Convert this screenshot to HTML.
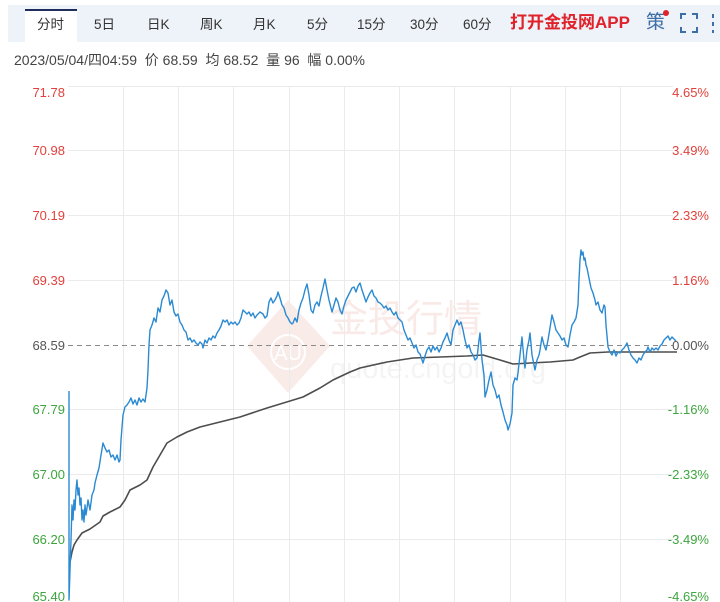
<!DOCTYPE html>
<html>
<head>
<meta charset="utf-8">
<style>
  html,body{margin:0;padding:0;background:#fff;}
  body{width:720px;height:602px;overflow:hidden;position:relative;font-family:"Liberation Sans","Noto Sans CJK SC",sans-serif;}
  .bar{position:absolute;left:8px;top:5px;width:712px;height:37px;background:#eef2f9;}
  .tab{position:absolute;top:16px;font-size:13.5px;color:#333;line-height:18px;}
  .active{position:absolute;left:25px;top:9px;width:52px;height:33px;background:#fff;border-top:2px solid #1f2d5c;box-sizing:border-box;}
  .app{position:absolute;left:510px;top:12px;font-size:17px;font-weight:bold;color:#e0222a;line-height:22px;letter-spacing:0px;}
  .ce{position:absolute;left:646px;top:12px;font-size:19px;color:#3d6ea6;line-height:22px;}
  .dot{position:absolute;left:663px;top:10px;width:6px;height:6px;border-radius:50%;background:#e0222a;}
  .info{position:absolute;left:14px;top:52px;font-size:14px;color:#444;line-height:17px;white-space:nowrap;}
</style>
</head>
<body>
<div class="bar"></div>
<div class="active"></div>
<div class="tab" style="left:37px">分时</div>
<div class="tab" style="left:94px">5日</div>
<div class="tab" style="left:147px">日K</div>
<div class="tab" style="left:200px">周K</div>
<div class="tab" style="left:253px">月K</div>
<div class="tab" style="left:307px">5分</div>
<div class="tab" style="left:357px">15分</div>
<div class="tab" style="left:410px">30分</div>
<div class="tab" style="left:463px">60分</div>
<div class="app">打开金投网APP</div>
<div class="ce">策</div>
<div class="dot"></div>
<svg style="position:absolute;left:0;top:0" width="720" height="602">
  <g stroke="#3d6ea6" stroke-width="2" fill="none">
    <path d="M681,19 L681,14 L686,14"/>
    <path d="M692,14 L697,14 L697,19"/>
    <path d="M681,27 L681,32 L686,32"/>
    <path d="M692,32 L697,32 L697,27"/>
    <path d="M713,14 L713,18 M713,22 L713,26 M713,30 L713,33"/>
  </g>
</svg>
<div class="info">2023/05/04/四04:59&nbsp; 价 68.59&nbsp; 均 68.52&nbsp; 量 96&nbsp; 幅 0.00%</div>

<svg style="position:absolute;left:0;top:0" width="720" height="602" font-family="Liberation Sans, sans-serif">
  <!-- watermark -->
  <g opacity="0.35">
    <polygon points="288,300 330,346 288,393 247,346" fill="#f0c8c0"/>
    <circle cx="288" cy="352" r="17" fill="none" stroke="#fff" stroke-width="2"/>
    <text x="288" y="360" font-size="20" fill="#fff" text-anchor="middle">AU</text>
    <text x="330" y="332" font-size="38" fill="#eec4bc" font-family="Liberation Sans, Noto Sans CJK SC, sans-serif">金投行情</text>
    <text x="330" y="378" font-size="29" fill="#e0e0e0">quote.cngold.org</text>
  </g>
  <!-- grid -->
  <g stroke="#ebebeb" stroke-width="1">
    <line x1="68" y1="86.5" x2="673" y2="86.5"/>
    <line x1="68" y1="150.5" x2="673" y2="150.5"/>
    <line x1="68" y1="215.5" x2="673" y2="215.5"/>
    <line x1="68" y1="280.5" x2="673" y2="280.5"/>
    <line x1="68" y1="409.5" x2="673" y2="409.5"/>
    <line x1="68" y1="474.5" x2="673" y2="474.5"/>
    <line x1="68" y1="539.5" x2="673" y2="539.5"/>
    <line x1="123.5" y1="86" x2="123.5" y2="602"/>
    <line x1="178.5" y1="86" x2="178.5" y2="602"/>
    <line x1="233.5" y1="86" x2="233.5" y2="602"/>
    <line x1="289.5" y1="86" x2="289.5" y2="602"/>
    <line x1="344.5" y1="86" x2="344.5" y2="602"/>
    <line x1="399.5" y1="86" x2="399.5" y2="602"/>
    <line x1="454.5" y1="86" x2="454.5" y2="602"/>
    <line x1="510.5" y1="86" x2="510.5" y2="602"/>
    <line x1="565.5" y1="86" x2="565.5" y2="602"/>
    <line x1="620.5" y1="86" x2="620.5" y2="602"/>
  </g>
  <line x1="68" y1="345.5" x2="673" y2="345.5" stroke="#8a8a8a" stroke-width="1" stroke-dasharray="5,4"/>
  <!-- axis labels -->
  <g font-size="13" text-anchor="end">
    <text x="65" y="97" fill="#e2403a">71.78</text>
    <text x="65" y="155" fill="#e2403a">70.98</text>
    <text x="65" y="220" fill="#e2403a">70.19</text>
    <text x="65" y="285" fill="#e2403a">69.39</text>
    <text x="65" y="350" fill="#555">68.59</text>
    <text x="65" y="414" fill="#3da53d">67.79</text>
    <text x="65" y="479" fill="#3da53d">67.00</text>
    <text x="65" y="544" fill="#3da53d">66.20</text>
    <text x="65" y="601" fill="#3da53d">65.40</text>
    <text x="709" y="97" fill="#e2403a">4.65%</text>
    <text x="709" y="155" fill="#e2403a">3.49%</text>
    <text x="709" y="220" fill="#e2403a">2.33%</text>
    <text x="709" y="285" fill="#e2403a">1.16%</text>
    <text x="709" y="350" fill="#555">0.00%</text>
    <text x="709" y="414" fill="#3da53d">-1.16%</text>
    <text x="709" y="479" fill="#3da53d">-2.33%</text>
    <text x="709" y="544" fill="#3da53d">-3.49%</text>
    <text x="709" y="601" fill="#3da53d">-4.65%</text>
  </g>
  <!-- average line -->
  <polyline fill="none" stroke="#4d4d4d" stroke-width="1.6" stroke-linejoin="round" points="70,562 72,552 74,545 77,540 82,533 90,529 100,522 103,516 110,512 120,507 125,500 130,490 140,485 147,480 153,467 160,455 167,443 177,437 187,432 200,427 220,422 240,417 267,408 290,401 303,397 320,388 333,380 350,372 360,368 387,362 413,358 440,357 467,356 483,355 500,360 513,364 530,363 550,362 573,360 580,357 590,353 608,352 647,352 677,352"/>
  <!-- price line -->
  <polyline fill="none" stroke="#2b8ad2" stroke-width="1.4" stroke-linejoin="round" points="69,391 69,600 70,570 71,540 72,505 73,520 74,500 75,510 76,490 77,480 78,495 79,488 80,505 81,498 82,520 83,510 84,522 85,505 86,515 87,508 88,500 90,510 92,495 94,490 95,483 97,475 99,468 101,455 103,443 105,448 107,452 109,450 111,457 113,455 115,460 117,455 119,462 120,460 121,440 123,415 125,407 127,405 129,402 131,398 133,404 135,400 137,405 139,398 141,402 143,399 145,402 146,395 147,388 148,370 149,345 150,330 152,325 154,318 156,322 158,308 160,312 162,300 164,296 166,290 168,293 170,305 172,300 174,312 176,316 178,314 180,322 182,325 184,330 186,332 188,340 190,338 192,342 194,340 196,343 198,345 200,342 202,344 203,348 205,340 207,343 209,338 211,340 213,336 215,338 217,333 219,330 221,326 223,320 225,322 227,320 229,325 231,322 233,324 235,322 237,325 239,323 241,318 243,310 245,312 247,314 249,312 251,316 253,313 255,318 257,315 260,312 263,314 265,318 267,316 269,302 271,298 273,303 275,300 277,296 278,292 280,298 282,305 284,308 286,315 288,318 290,322 292,324 293,323 295,318 297,322 299,310 301,303 303,298 305,290 307,284 309,295 311,310 313,313 315,305 317,302 319,306 321,296 323,288 325,279 327,290 329,300 331,308 332,312 334,305 336,298 338,302 340,310 342,314 344,306 346,300 348,296 350,292 352,288 354,287 356,292 358,286 360,283 362,290 364,296 366,302 368,297 370,293 372,290 374,296 376,298 378,302 380,303 382,305 384,308 386,306 388,310 390,308 392,312 394,315 396,312 398,318 400,320 402,322 404,330 406,335 408,340 410,338 412,343 414,348 416,345 418,352 420,354 422,360 423,363 425,356 427,350 429,347 431,352 433,346 435,350 437,347 439,352 441,348 443,342 445,338 447,333 449,340 451,345 453,330 455,325 457,320 459,325 461,322 463,330 465,340 467,348 469,345 471,352 473,355 475,360 477,358 479,340 480,333 482,360 484,375 485,397 487,390 489,380 491,372 493,385 495,390 497,398 499,395 501,405 503,412 505,420 507,425 508,430 510,424 512,413 513,385 515,378 517,380 518,373 520,355 522,337 524,360 525,368 527,350 529,340 530,333 532,355 534,365 535,370 537,360 539,355 540,350 542,337 544,345 546,350 548,340 550,328 552,315 554,322 556,330 558,333 560,336 562,340 564,338 566,345 568,347 570,335 572,325 574,322 576,318 578,305 579,280 580,260 581,250 582,255 583,252 584,260 585,258 586,265 587,268 589,278 591,288 593,293 595,300 596,305 598,302 600,310 602,313 604,305 605,307 606,325 608,347 610,352 612,355 614,350 616,356 618,352 620,353 622,350 624,348 626,345 627,343 629,350 631,355 633,358 635,360 637,363 639,358 641,360 643,355 645,352 647,350 648,347 650,352 652,348 654,350 656,348 658,350 660,346 662,344 664,340 666,338 668,336 670,340 672,337 674,339 676,341"/>
</svg>
</body>
</html>
